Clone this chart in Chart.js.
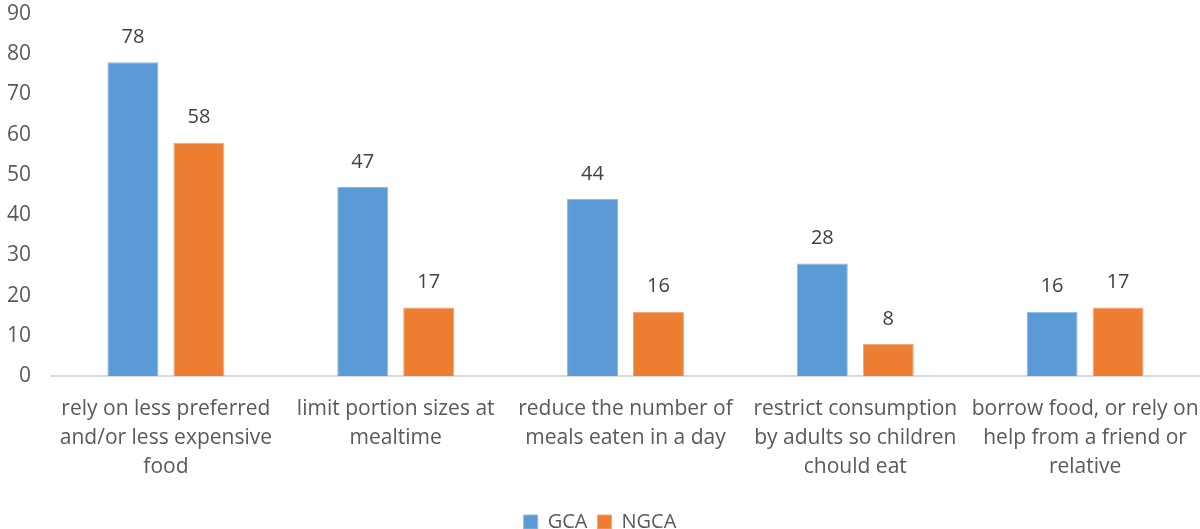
<!DOCTYPE html>
<html>
<head>
<meta charset="utf-8">
<script src="https://cdn.jsdelivr.net/npm/chart.js@4.4.1/dist/chart.umd.min.js"></script>
<style>
  html, body { margin: 0; padding: 0; background: #fff; }
  #wrap { width: 1200px; height: 529px; }
</style>
</head>
<body>
<div id="wrap"><canvas id="c" width="1200" height="529"></canvas></div>
<script>
const categories = [
  ["rely on less preferred", "and/or less expensive", "food"],
  ["limit portion sizes at", "mealtime"],
  ["reduce the number of", "meals eaten in a day"],
  ["restrict consumption", "by adults so children", "chould eat"],
  ["borrow food, or rely on", "help from a friend or", "relative"]
];
const gcaValues = [78, 47, 44, 28, 16];
const ngcaValues = [58, 17, 16, 8, 17];
const seriesNames = ["GCA", "NGCA"];
const yTicks = [0, 10, 20, 30, 40, 50, 60, 70, 80, 90];

const FONT = "'Open Sans', 'Noto Sans', sans-serif";
const TEXT = "#595959";

// Writes each bar's value above it
const valueLabels = {
  id: "valueLabels",
  afterDatasetsDraw(chart) {
    const ctx = chart.ctx;
    ctx.save();
    ctx.font = "20px " + FONT;
    ctx.fillStyle = "#404040";
    ctx.textAlign = "center";
    ctx.textBaseline = "middle";
    chart.data.datasets.forEach((ds, i) => {
      chart.getDatasetMeta(i).data.forEach((bar, j) => {
        ctx.fillText(String(ds.data[j]), bar.x, bar.y - 25);
      });
    });
    ctx.restore();
  }
};

new Chart(document.getElementById("c"), {
  type: "bar",
  data: {
    labels: categories,
    datasets: [
      { label: seriesNames[0], data: gcaValues, backgroundColor: "#5B9BD5",
        borderColor: "#8DB9E3", borderWidth: 1, borderSkipped: "bottom" },
      { label: seriesNames[1], data: ngcaValues, backgroundColor: "#ED7D31",
        borderColor: "#F2A775", borderWidth: 1, borderSkipped: "bottom" }
    ]
  },
  options: {
    responsive: false,
    animation: false,
    layout: { padding: { top: 14, right: 0, left: 0, bottom: -13 } },
    datasets: { bar: { categoryPercentage: 0.574, barPercentage: 0.773 } },
    plugins: {
      legend: {
        position: "bottom",
        labels: {
          font: { family: FONT, size: 20 },
          color: TEXT,
          boxWidth: 14,
          boxHeight: 14,
          padding: 10
        }
      },
      tooltip: { enabled: false }
    },
    scales: {
      x: {
        grid: { display: false, drawTicks: false },
        border: { display: true, color: "#D9D9D9", width: 2 },
        ticks: {
          font: { family: FONT, size: 21, lineHeight: 1.4 },
          color: TEXT,
          padding: 18,
          maxRotation: 0,
          autoSkip: false
        },
        afterFit(s) { s.height = 126; s.paddingLeft = 0; s.paddingRight = 0; }
      },
      y: {
        min: 0,
        max: 90,
        afterBuildTicks(s) { s.ticks = yTicks.map(v => ({ value: v })); },
        grid: { display: false, drawTicks: false },
        border: { display: false },
        ticks: {
          font: { family: FONT, size: 21 },
          color: TEXT,
          padding: 20
        },
        afterFit(s) { s.width = 51; s.paddingTop = 0; s.paddingBottom = 0; }
      }
    }
  },
  plugins: [valueLabels]
});
</script>
</body>
</html>
